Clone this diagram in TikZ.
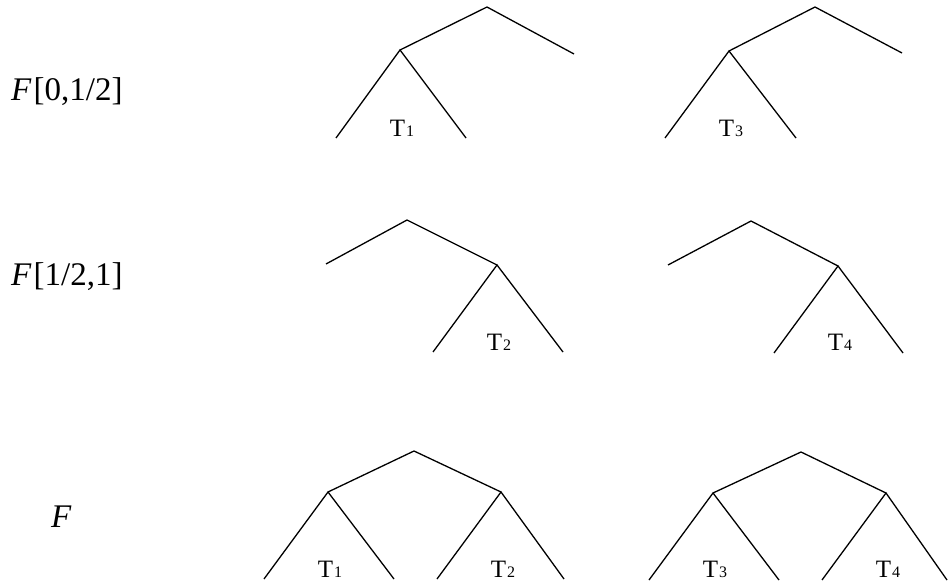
\documentclass[tikz,border=0pt]{standalone}
\usepackage{fontspec}
\setmainfont{Liberation Serif}
\usepackage{tikz}
\tikzset{
    edge/.style={line width=1.3pt, line join=miter},
    rowlab/.style={inner sep=0pt, font=\fontsize{33}{33}\selectfont},
    tlab/.style={inner sep=0pt, font=\fontsize{25}{25}\selectfont},
    fr/.style={x=1pt, y=-1pt}
}
\newcommand{\subtree}[1]{T\kern1pt{\fontsize{16}{16}\selectfont #1}}

\begin{document}
\begin{tikzpicture}[fr]
        \useasboundingbox (0,0) rectangle (948,586);

        % row labels
        \node[rowlab, anchor=base west] (lab1) at (11,100) {\textit{F}\kern2pt[0,1/2]};
        \node[rowlab, anchor=base west] (lab2) at (11,285) {\textit{F}\kern2pt[1/2,1]};
        \node[rowlab, anchor=base west] (lab3) at (51,527) {\textit{F}};

        % F[0,1/2]
        \coordinate (a0) at (487,7);
        \coordinate (a1) at (400,50);
        \coordinate (a2) at (574,54);
        \coordinate (a3) at (336,138);
        \coordinate (a4) at (466,138);
        \draw[edge] (a3) -- (a1) -- (a4);
        \draw[edge] (a1) -- (a0) -- (a2);
        \node[tlab, anchor=base] (ta) at (402,136) {\subtree{1}};

        \coordinate (b0) at (815,7);
        \coordinate (b1) at (729,51);
        \coordinate (b2) at (902,53);
        \coordinate (b3) at (665,138);
        \coordinate (b4) at (796,138);
        \draw[edge] (b3) -- (b1) -- (b4);
        \draw[edge] (b1) -- (b0) -- (b2);
        \node[tlab, anchor=base] (tb) at (731,136) {\subtree{3}};

        % F[1/2,1]
        \coordinate (c0) at (407,220);
        \coordinate (c1) at (326,264);
        \coordinate (c2) at (497,265);
        \coordinate (c3) at (433,352);
        \coordinate (c4) at (563,352);
        \draw[edge] (c1) -- (c0) -- (c2);
        \draw[edge] (c3) -- (c2) -- (c4);
        \node[tlab, anchor=base] (tc) at (499,350) {\subtree{2}};

        \coordinate (d0) at (751,221);
        \coordinate (d1) at (668,265);
        \coordinate (d2) at (838,266);
        \coordinate (d3) at (774,353);
        \coordinate (d4) at (903,353);
        \draw[edge] (d1) -- (d0) -- (d2);
        \draw[edge] (d3) -- (d2) -- (d4);
        \node[tlab, anchor=base] (td) at (840,350) {\subtree{4}};

        % F
        \coordinate (e0) at (414,451);
        \coordinate (e1) at (328,492);
        \coordinate (e2) at (501,492);
        \coordinate (e3) at (264,579);
        \coordinate (e4) at (394,579);
        \coordinate (e5) at (437,579);
        \coordinate (e6) at (564,579);
        \draw[edge] (e1) -- (e0) -- (e2);
        \draw[edge] (e3) -- (e1) -- (e4);
        \draw[edge] (e5) -- (e2) -- (e6);
        \node[tlab, anchor=base] (te1) at (330,577) {\subtree{1}};
        \node[tlab, anchor=base] (te2) at (503,577) {\subtree{2}};

        \coordinate (f0) at (801,452);
        \coordinate (f1) at (713,493);
        \coordinate (f2) at (886,493);
        \coordinate (f3) at (649,580);
        \coordinate (f4) at (779,580);
        \coordinate (f5) at (822,580);
        \coordinate (f6) at (947,580);
        \draw[edge] (f1) -- (f0) -- (f2);
        \draw[edge] (f3) -- (f1) -- (f4);
        \draw[edge] (f5) -- (f2) -- (f6);
        \node[tlab, anchor=base] (tf1) at (715,577) {\subtree{3}};
        \node[tlab, anchor=base] (tf2) at (888,577) {\subtree{4}};
    \end{tikzpicture}
\end{document}
